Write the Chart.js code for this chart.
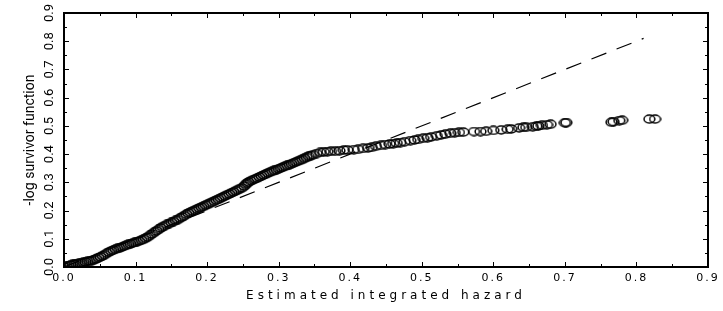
<!DOCTYPE html>
<html>
<head>
<meta charset="utf-8">
<script src="https://cdn.jsdelivr.net/npm/chart.js@4"></script>
<style>
  body { margin: 0; background: #fff; }
  #wrap { width: 723px; height: 311px; position: relative; }
  #overlay { position: absolute; left: 0; top: 0; pointer-events: none; }
</style>
</head>
<body>
<div id="wrap"><canvas id="chart"></canvas><canvas id="overlay" width="723" height="311"></canvas></div>
<script>
// データ (読み取り値)
const hazardX = [
  0.000, 0.003, 0.006, 0.009, 0.012, 0.015, 0.018, 0.021, 0.024, 0.027,
  0.030, 0.033, 0.036, 0.039, 0.042, 0.045, 0.048, 0.051, 0.054, 0.057,
  0.060, 0.063, 0.066, 0.069, 0.072, 0.075, 0.078, 0.081, 0.084, 0.087,
  0.090, 0.093, 0.096, 0.099, 0.102, 0.105, 0.108, 0.111, 0.114, 0.117,
  0.120, 0.123, 0.126, 0.129, 0.132, 0.135, 0.138, 0.141, 0.144, 0.147,
  0.150, 0.153, 0.156, 0.159, 0.162, 0.165, 0.168, 0.171, 0.174, 0.177,
  0.180, 0.183, 0.186, 0.189, 0.192, 0.195, 0.198, 0.201, 0.204, 0.207,
  0.210, 0.213, 0.216, 0.219, 0.222, 0.225, 0.228, 0.231, 0.234, 0.237,
  0.240, 0.243, 0.246, 0.249, 0.252, 0.254, 0.256, 0.258, 0.261, 0.264,
  0.267, 0.270, 0.273, 0.276, 0.279, 0.282, 0.285, 0.288, 0.291, 0.294,
  0.297, 0.300, 0.303, 0.306, 0.309, 0.312, 0.315, 0.318, 0.321, 0.324,
  0.327, 0.330, 0.333, 0.336, 0.339, 0.342, 0.345, 0.348,
  0.353, 0.358, 0.363, 0.368, 0.373, 0.379, 0.385, 0.391, 0.396, 0.405,
  0.411, 0.418, 0.425, 0.430, 0.436, 0.443, 0.449, 0.455, 0.460, 0.465,
  0.470, 0.476, 0.484, 0.490, 0.495, 0.502, 0.508, 0.513, 0.521, 0.527,
  0.533, 0.540, 0.546, 0.552, 0.558, 0.573, 0.582, 0.590, 0.600, 0.611,
  0.620, 0.625, 0.636, 0.642, 0.646, 0.655, 0.660, 0.663, 0.668, 0.675,
  0.680, 0.700, 0.702, 0.765, 0.768, 0.776, 0.780, 0.818, 0.826
];
const survivorY = [
  0.000, 0.002, 0.005, 0.007, 0.009, 0.010, 0.012, 0.013, 0.015, 0.016,
  0.018, 0.020, 0.021, 0.023, 0.026, 0.029, 0.033, 0.036, 0.040, 0.044,
  0.049, 0.053, 0.057, 0.060, 0.063, 0.066, 0.068, 0.071, 0.074, 0.077,
  0.080, 0.082, 0.085, 0.087, 0.090, 0.092, 0.095, 0.098, 0.102, 0.106,
  0.112, 0.117, 0.123, 0.128, 0.133, 0.138, 0.143, 0.147, 0.151, 0.154,
  0.158, 0.161, 0.165, 0.168, 0.173, 0.177, 0.182, 0.187, 0.191, 0.194,
  0.198, 0.201, 0.205, 0.209, 0.212, 0.215, 0.219, 0.222, 0.226, 0.229,
  0.233, 0.237, 0.240, 0.244, 0.248, 0.252, 0.256, 0.259, 0.263, 0.266,
  0.270, 0.274, 0.278, 0.281, 0.287, 0.293, 0.297, 0.301, 0.305, 0.309,
  0.312, 0.315, 0.319, 0.322, 0.326, 0.329, 0.333, 0.336, 0.339, 0.342,
  0.345, 0.348, 0.351, 0.354, 0.357, 0.360, 0.363, 0.366, 0.369, 0.372,
  0.375, 0.378, 0.381, 0.385, 0.388, 0.392, 0.395, 0.398,
  0.402, 0.406, 0.408, 0.409, 0.410, 0.410, 0.412, 0.414, 0.415, 0.416,
  0.417, 0.420, 0.422, 0.424, 0.428, 0.431, 0.434, 0.436, 0.437, 0.439,
  0.441, 0.444, 0.448, 0.450, 0.452, 0.456, 0.458, 0.461, 0.465, 0.468,
  0.471, 0.474, 0.476, 0.477, 0.478, 0.480, 0.480, 0.481, 0.484, 0.486,
  0.488, 0.489, 0.493, 0.495, 0.495, 0.497, 0.499, 0.500, 0.502, 0.504,
  0.506, 0.511, 0.512, 0.513, 0.515, 0.519, 0.520, 0.524, 0.524
];
// 破線 (y = x の参照線)
const refLineX = [0.0, 0.81];
const refLineY = [0.0, 0.81];
// 軸目盛り
const xTickLabels = ['0.0', '0.1', '0.2', '0.3', '0.4', '0.5', '0.6', '0.7', '0.8', '0.9'];
const yTickLabels = ['0.0', '0.1', '0.2', '0.3', '0.4', '0.5', '0.6', '0.7', '0.8', '0.9'];
const minorTicks = [0, 0.05, 0.1, 0.15, 0.2, 0.25, 0.3, 0.35, 0.4, 0.45, 0.5, 0.55, 0.6, 0.65, 0.7, 0.75, 0.8, 0.85, 0.9];

const WIDE_FONT = 'DejaVu Sans';
const NARROW_FONT = "'Liberation Sans Narrow', 'Roboto', 'Liberation Sans'";

// 楕円マーカー
function makeEllipse() {
    const c = document.createElement('canvas');
    c.width = 13; c.height = 10;
    const g = c.getContext('2d');
    g.strokeStyle = '#000';
    g.lineWidth = 1.5;
    g.beginPath();
    g.ellipse(6.5, 5, 5.4, 3.9, 0, 0, Math.PI * 2);
    g.stroke();
    return c;
}

// x軸の文字間隔を広げる
function spaced(scale, fnName, spacing) {
    if (scale['_patched_' + fnName]) return;
    const orig = scale[fnName];
    scale[fnName] = function (...args) {
        const ctx = this.ctx;
        ctx.save();
        ctx.letterSpacing = spacing;
        orig.apply(this, args);
        ctx.letterSpacing = '0px';
        ctx.restore();
    };
    scale['_patched_' + fnName] = true;
}

const letterSpacingPlugin = {
    id: 'letterSpacing',
    beforeDraw(chart) {
        spaced(chart.scales.x, 'drawLabels', '2px');
        spaced(chart.scales.x, 'drawTitle', '4px');
    }
};

const points = hazardX.map((v, i) => ({ x: v, y: survivorY[i] }));
const refLine = refLineX.map((v, i) => ({ x: v, y: refLineY[i] }));

const chart = new Chart(document.getElementById('chart'), {
    type: 'scatter',
    data: {
        datasets: [
            {
                data: points,
                pointStyle: makeEllipse(),
                pointRadius: 5,
                borderColor: '#000',
                backgroundColor: 'rgba(0,0,0,0)'
            },
            {
                data: refLine,
                showLine: true,
                borderColor: '#000',
                borderWidth: 1.2,
                borderDash: [16, 11],
                pointRadius: 0
            }
        ]
    },
    options: {
        animation: false, responsive: true, maintainAspectRatio: false,
        layout: { padding: { left: 0, right: 15, top: 13, bottom: 0 } },
        plugins: { legend: { display: false }, tooltip: { enabled: false } },
        scales: {
            x: {
                type: 'linear', min: 0, max: 0.9,
                afterFit: s => { s.height = 44; },
                grid: { display: false, drawTicks: false },
                border: { display: false },
                ticks: {
                    stepSize: 0.1, autoSkip: false, maxRotation: 0, padding: 5,
                    color: '#000', font: { family: WIDE_FONT, size: 11 },
                    callback: (v, i) => xTickLabels[i]
                },
                title: {
                    display: true, text: 'Estimated integrated hazard', color: '#000',
                    font: { family: WIDE_FONT, size: 12 },
                    padding: { top: 0, bottom: 8 }
                }
            },
            y: {
                type: 'linear', min: 0, max: 0.9,
                afterFit: s => { s.width = 64; },
                grid: { display: false, drawTicks: false },
                border: { display: false },
                ticks: {
                    stepSize: 0.1, autoSkip: false, minRotation: 90, maxRotation: 90,
                    crossAlign: 'center', padding: 5,
                    color: '#000', font: { family: NARROW_FONT, size: 13 },
                    callback: (v, i) => yTickLabels[i]
                },
                title: {
                    display: true, text: '-log survivor function', color: '#000',
                    font: { family: NARROW_FONT, size: 14 },
                    padding: { top: 22, bottom: 0 }
                }
            }
        }
    },
    plugins: [letterSpacingPlugin]
});

// 枠線と内向きの目盛りを重ねて描く (チャートのスケールから位置を取る)
function drawFrame() {
    const ov = document.getElementById('overlay');
    const ctx = ov.getContext('2d');
    ctx.clearRect(0, 0, ov.width, ov.height);
    const x = chart.scales.x, y = chart.scales.y;
    const L = x.getPixelForValue(0), R = x.getPixelForValue(0.9);
    const B = y.getPixelForValue(0), T = y.getPixelForValue(0.9);
    ctx.strokeStyle = '#000';
    ctx.lineWidth = 1;
    ctx.beginPath();
    minorTicks.forEach((v, i) => {
        const len = i % 2 === 0 ? 5 : 3;
        const px = Math.round(x.getPixelForValue(v)) + 0.5;
        ctx.moveTo(px, B); ctx.lineTo(px, B - len);
        ctx.moveTo(px, T); ctx.lineTo(px, T + len);
        const py = Math.round(y.getPixelForValue(v)) + 0.5;
        ctx.moveTo(L, py); ctx.lineTo(L + len, py);
        ctx.moveTo(R, py); ctx.lineTo(R - len, py);
    });
    ctx.stroke();
    ctx.lineWidth = 2;
    ctx.strokeRect(L, T, R - L, B - T);
}
drawFrame();
setTimeout(drawFrame, 50);
</script>
</body>
</html>
